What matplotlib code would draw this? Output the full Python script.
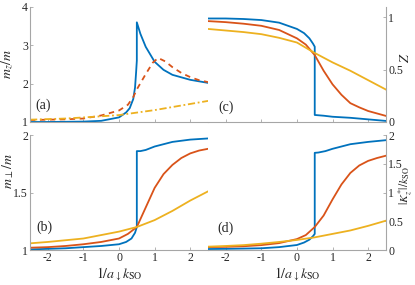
import matplotlib
matplotlib.use("Agg")
import matplotlib.pyplot as plt

plt.rcParams['font.family'] = ['Liberation Serif', 'DejaVu Serif']
plt.rcParams['mathtext.fontset'] = 'stix'
plt.rcParams['axes.unicode_minus'] = False

blue = '#0072BD'
orange = '#D95319'
yellow = '#EDB120'
gray = '#a6a6a6'
txt = '#262626'

# panel (a): m_z/m
xa_b = [-2.5, -2, -1.5, -1, -0.5, 0, 0.2, 0.3, 0.4, 0.45, 0.48, 0.5, 0.5, 0.6, 0.75, 1.0, 1.25, 1.5, 2.0, 2.5]
ya_b = [1.0, 1.0, 1.005, 1.01, 1.03, 1.12, 1.25, 1.36, 1.6, 1.9, 2.3, 2.6, 3.6, 3.3, 2.96, 2.57, 2.36, 2.23, 2.1, 2.02]
xa_o = [-2.5, -2, -1.5, -1, -0.5, 0, 0.25, 0.4, 0.5, 0.75, 0.95, 1.1, 1.3, 1.5, 1.75, 2, 2.25, 2.5]
ya_o = [1.05, 1.06, 1.07, 1.09, 1.17, 1.3, 1.45, 1.65, 1.85, 2.25, 2.55, 2.67, 2.58, 2.43, 2.28, 2.17, 2.09, 2.04]
xa_y = [-2.5, -1.5, -0.8, 0, 1, 1.5, 2, 2.5]
ya_y = [1.06, 1.09, 1.13, 1.18, 1.31, 1.39, 1.47, 1.55]

# panel (b): m_perp/m
xb_b = [-2.5, -2, -1.5, -1, -0.5, 0, 0.2, 0.35, 0.45, 0.49, 0.5, 0.5, 0.6, 0.75, 1, 1.25, 1.5, 1.75, 2, 2.5]
yb_b = [1.005, 1.01, 1.015, 1.025, 1.035, 1.05, 1.07, 1.1, 1.15, 1.19, 1.2, 1.86, 1.86, 1.87, 1.9, 1.92, 1.94, 1.95, 1.96, 1.97]
xb_o = [-2.5, -2, -1.5, -1, -0.5, 0, 0.25, 0.5, 0.75, 1, 1.25, 1.5, 1.75, 2, 2.25, 2.5]
yb_o = [1.02, 1.025, 1.035, 1.05, 1.07, 1.1, 1.14, 1.2, 1.37, 1.54, 1.66, 1.74, 1.8, 1.84, 1.865, 1.88]
xb_y = [-2.5, -2, -1, 0, 0.5, 1, 1.5, 2, 2.5]
yb_y = [1.058, 1.07, 1.1, 1.16, 1.2, 1.26, 1.34, 1.43, 1.51]

# panel (c): Z
xc_b = [-2.5, -2, -1.5, -1, -0.5, 0, 0.2, 0.35, 0.45, 0.5, 0.5, 0.75, 1, 1.5, 2, 2.5]
yc_b = [0.99, 0.99, 0.985, 0.975, 0.95, 0.89, 0.85, 0.8, 0.75, 0.72, 0.067, 0.06, 0.05, 0.04, 0.025, 0.01]
xc_o = [-2.5, -2, -1.5, -1, -0.5, 0, 0.25, 0.5, 0.75, 1, 1.25, 1.5, 1.75, 2, 2.5]
yc_o = [0.965, 0.955, 0.94, 0.92, 0.88, 0.8, 0.74, 0.64, 0.49, 0.36, 0.26, 0.18, 0.14, 0.105, 0.058]
xc_y = [-2.5, -2, -1.5, -1, -0.5, 0, 0.5, 1, 1.5, 2, 2.5]
yc_y = [0.89, 0.875, 0.86, 0.84, 0.805, 0.76, 0.66, 0.57, 0.49, 0.4, 0.31]

# panel (d): |K_z^*|/k_SO
xd_b = [-2.5, -2, -1.5, -1, -0.5, 0, 0.2, 0.35, 0.45, 0.5, 0.5, 0.6, 0.8, 1, 1.5, 2, 2.5]
yd_b = [0.017, 0.02, 0.025, 0.03, 0.05, 0.087, 0.13, 0.18, 0.24, 0.28, 1.69, 1.695, 1.72, 1.76, 1.84, 1.88, 1.91]
xd_o = [-2.5, -2, -1.5, -1, -0.5, 0, 0.25, 0.5, 0.75, 1, 1.25, 1.5, 1.75, 2, 2.25, 2.5]
yd_o = [0.05, 0.055, 0.065, 0.085, 0.12, 0.19, 0.26, 0.4, 0.6, 0.88, 1.14, 1.34, 1.47, 1.55, 1.6, 1.64]
xd_y = [-2.5, -2, -1.5, -1, -0.5, 0, 0.5, 1, 1.5, 2, 2.5]
yd_y = [0.058, 0.07, 0.085, 0.11, 0.14, 0.175, 0.22, 0.28, 0.34, 0.42, 0.51]

xticks = [-2, -1, 0, 1, 2]

fig = plt.figure(figsize=(4.15, 2.85), dpi=100)
axa = fig.add_axes([0.0723, 0.572, 0.429, 0.4035])
axb = fig.add_axes([0.0723, 0.1228, 0.429, 0.4035])
axc = fig.add_axes([0.501, 0.572, 0.429, 0.4035])
axd = fig.add_axes([0.501, 0.1228, 0.429, 0.4035])

lw = 1.3
axa.plot(xa_b, ya_b, color=blue, lw=lw)
axa.plot(xa_o, ya_o, color=orange, lw=lw, ls=(0, (3, 2.5)))
axa.plot(xa_y, ya_y, color=yellow, lw=lw, ls=(0, (4, 1.5, 1, 1.5)))
axb.plot(xb_b, yb_b, color=blue, lw=lw)
axb.plot(xb_o, yb_o, color=orange, lw=lw)
axb.plot(xb_y, yb_y, color=yellow, lw=lw)
axc.plot(xc_b, yc_b, color=blue, lw=lw)
axc.plot(xc_o, yc_o, color=orange, lw=lw)
axc.plot(xc_y, yc_y, color=yellow, lw=lw)
axd.plot(xd_b, yd_b, color=blue, lw=lw)
axd.plot(xd_o, yd_o, color=orange, lw=lw)
axd.plot(xd_y, yd_y, color=yellow, lw=lw)

axa.set_ylim(1, 4)
axa.set_yticks([1, 2, 3, 4])
axb.set_ylim(1, 2)
axb.set_yticks([1, 1.5, 2])
axb.set_yticklabels(['1', '1.5', '2'])
axc.set_ylim(0, 1.1)
axc.set_yticks([0, 0.5, 1])
axc.set_yticklabels(['0', '0.5', '1'])
axd.set_ylim(0, 2)
axd.set_yticks([0, 0.5, 1, 1.5, 2])
axd.set_yticklabels(['0', '0.5', '1', '1.5', '2'])

for ax in (axa, axb, axc, axd):
    ax.set_xlim(-2.5, 2.5)
    ax.set_xticks(xticks)
    ax.spines['top'].set_visible(False)
    for s in ax.spines.values():
        s.set_color(gray)
        s.set_linewidth(0.8)
    ax.tick_params(direction='in', length=2.5, width=0.6, colors=gray,
                   labelcolor=txt, labelsize=8.5, pad=1.5)

for ax in (axa, axb):
    ax.spines['right'].set_visible(False)
for ax in (axc, axd):
    ax.spines['left'].set_visible(False)
    ax.yaxis.tick_right()
    ax.yaxis.set_label_position('right')

for ax in (axa, axc):
    ax.set_xticklabels([])

axb.set_xticklabels([str(t) for t in xticks])
axd.set_xticklabels([str(t) for t in xticks])

axa.set_ylabel(r'$m_z/m$', fontsize=10, color=txt)
axb.set_ylabel(r'$m_\perp/m$', fontsize=10, color=txt)
axc.set_ylabel(r'$Z$', fontsize=10, color=txt)
axd.set_ylabel(r'$|K_z^{*}|/k_{\rm SO}$', fontsize=8.5, color=txt)
axa.yaxis.set_label_coords(-0.087, 0.5)
axb.yaxis.set_label_coords(-0.08, 0.69)
axc.yaxis.set_label_coords(1.075, 0.556)
axd.yaxis.label.set_verticalalignment('center')
axd.yaxis.set_label_coords(1.11, 0.56)
axb.set_xlabel(r'$1/a_{\downarrow}k_{\rm SO}$', fontsize=10, color=txt, labelpad=1)
axd.set_xlabel(r'$1/a_{\downarrow}k_{\rm SO}$', fontsize=10, color=txt, labelpad=1)

axa.text(-2.13, 1.44, '(a)', fontsize=10, color=txt, ha='center', va='center')
axb.text(-2.1, 1.2, '(b)', fontsize=10, color=txt, ha='center', va='center')
axc.text(-2.0, 0.14, '(c)', fontsize=10, color=txt, ha='center', va='center')
axd.text(-2.0, 0.38, '(d)', fontsize=10, color=txt, ha='center', va='center')

fig.savefig('out.png', dpi=100)
